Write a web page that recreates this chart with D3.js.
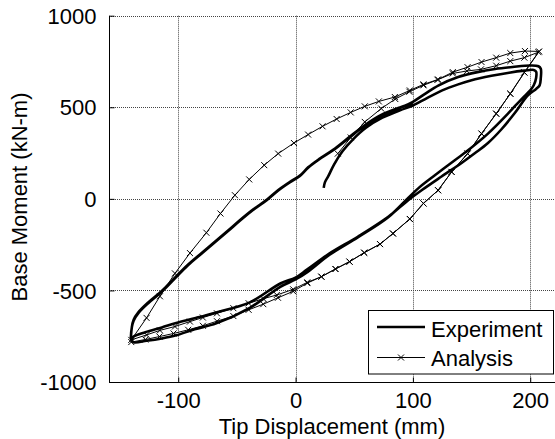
<html>
<head>
<meta charset="utf-8">
<script src="https://d3js.org/d3.v7.min.js"></script>
<style>
  body { margin: 0; background: #fff; }
  text { font-family: "Liberation Sans", Arial, sans-serif; fill: #000; }
</style>
</head>
<body>
<script>

// tick values
var xTicks = [-100, 0, 100, 200];
var yTicks = [-1000, -500, 0, 500, 1000];

// experiment: [tip disp (mm), base moment (kN-m)]
var expHook = [[24,60],[25,90],[28,125],[33,190],[40,260],[49,325],[60,388],[74,443],[89,483],[100,510],[112,550],[125,592],[138.6,625],[150,648],[167,672],[182,689],[195,700],[203,704]];
var expDrop1 = [[205,695],[205,660],[203,620],[200,592]];
var expUnload1 = [[192.6,545],[181,465],[164,356],[147,265],[135.7,211],[119,130],[105,60],[96,5],[79,-100],[53,-210],[29,-305],[10,-400],[0,-440],[-13,-480]];
var expNeg1 = [[-39,-595],[-67.6,-680],[-86,-712],[-101.7,-745],[-114,-762],[-127,-775],[-138,-783]];
var expReload = [[-140,-770],[-139.5,-700],[-138,-665],[-134,-624],[-125.6,-570],[-114,-507],[-102.8,-434],[-91.5,-361],[-80,-298],[-68,-233],[-57,-173],[-47,-117],[-36,-60],[-24.6,-7],[-15,45],[-5,90],[3.7,125],[10.7,170],[20,215],[32,265],[45,330],[58,395],[73,455],[89,497],[100,530],[110,572],[122,620],[138.6,665],[155,692],[170,709],[185,720],[200,728],[207,724]];
var expDrop2 = [[209,710],[209,660],[208,620],[205,600]];
var expUnload2 = [[198,565],[187,470],[175.5,380],[164,305],[153,250],[141.5,196],[124.4,122],[107.4,47],[96,-7],[79,-98],[53,-207],[29,-298],[10,-385],[0,-430],[-13,-462]];
var expNeg2 = [[-39,-565],[-67.6,-620],[-86,-652],[-101.7,-678],[-114,-702],[-128,-728],[-138,-752],[-140,-770]];
var expReload2 = [[-139.5,-700],[-138,-660],[-134,-620],[-125.6,-566],[-114,-503],[-102.8,-430],[-91.5,-358],[-80,-295],[-68,-230],[-57,-170],[-47,-114],[-36,-57],[-24.6,-5],[-15,47],[-5,92],[3.7,127],[10.7,172],[20,217],[32,268],[45,333],[58,398],[73,458],[89,499],[100,522]];

// analysis, one point per marker
var anaLoad1 = [[36,247],[47,335],[59,420],[73,493],[85,545],[97,585],[109,620],[121,650],[134,685],[146,698],[158,707],[171,727],[183,752],[195,771],[207,801]];
var anaUnload1 = [[195,690],[183,574],[171,465],[158.5,356],[146.6,247],[133,147],[121.5,47],[109,-25],[97.4,-110],[83,-189],[72,-247],[58.5,-294],[46,-343],[34,-383],[22,-425],[10,-456],[-2,-494],[-16,-525]];
var anaNeg1 = [[-27.5,-545],[-40,-570],[-53,-597],[-67,-625],[-79,-648],[-90,-670],[-102.8,-697],[-115.6,-718],[-127,-743],[-140,-770]];
var anaReload = [[-127,-650],[-115.6,-532],[-102.8,-407],[-90,-296],[-76,-185],[-64,-80],[-51.7,20],[-39.5,106],[-26.7,184],[-14.8,247],[-1.4,305],[10.7,351],[23,396],[35,436],[47,472],[59,505],[71,532],[84.6,556],[97.4,592],[109,625],[121.5,652],[134,692],[146.6,719],[158.5,747],[171,771],[183,796],[195.5,807],[207.6,805]];
var anaUnload2 = [[195,690],[183,574],[171,465],[158.5,356],[146.6,247],[133,147],[121.5,47],[109,-25],[97.4,-110],[83,-189],[72,-247],[58.5,-294],[46,-343],[34,-383],[22,-425],[10,-460],[-2,-505],[-15,-540]];
var anaNeg2 = [[-27.5,-575],[-40,-606],[-53,-640],[-67,-668],[-79,-693],[-91.5,-715],[-104,-735],[-116,-752],[-128,-768],[-140,-782]];

var experiment = [].concat(expHook, expDrop1, expUnload1, expNeg1, expReload, expDrop2, expUnload2, expNeg2, expReload2);
var analysis = [].concat(anaLoad1, anaUnload1, anaNeg1, anaReload, anaUnload2, anaNeg2);

var W = 555, H = 439;
var FS = "22px";
var svg = d3.select("body").append("svg").attr("width", W).attr("height", H);

var x = d3.scaleLinear().domain([-159, 220]).range([109, 553.7]);
var y = d3.scaleLinear().domain([-1000, 1000]).range([382, 15.7]);

// dotted grid
var grid = svg.append("g").attr("stroke", "#444").attr("stroke-width", 1).attr("stroke-dasharray", "1,1");
grid.selectAll("line.v").data(xTicks).enter().append("line")
  .attr("x1", function(d) { return Math.round(x(d)) + 0.5; })
  .attr("x2", function(d) { return Math.round(x(d)) + 0.5; })
  .attr("y1", y(1000)).attr("y2", y(-1000));
grid.selectAll("line.h").data(yTicks).enter().append("line")
  .attr("y1", function(d) { return Math.round(y(d)) + 0.5; })
  .attr("y2", function(d) { return Math.round(y(d)) + 0.5; })
  .attr("x1", x(-159)).attr("x2", W);

// curves
var line = d3.line().x(function(d) { return x(d[0]); }).y(function(d) { return y(d[1]); });

svg.append("path").datum(experiment)
  .attr("d", line.curve(d3.curveCatmullRom)(experiment))
  .attr("fill", "none").attr("stroke", "#000").attr("stroke-width", 2.6)
  .attr("stroke-linejoin", "round");

var lineA = d3.line().x(function(d) { return x(d[0]); }).y(function(d) { return y(d[1]); });
svg.append("path").datum(analysis)
  .attr("d", lineA)
  .attr("fill", "none").attr("stroke", "#000").attr("stroke-width", 1);

var m = 3;
svg.append("g").selectAll("path.mk").data(analysis).enter().append("path")
  .attr("d", function(d) {
    var cx = x(d[0]), cy = y(d[1]);
    return "M" + (cx - m) + "," + (cy - m) + "L" + (cx + m) + "," + (cy + m) +
           "M" + (cx - m) + "," + (cy + m) + "L" + (cx + m) + "," + (cy - m);
  })
  .attr("stroke", "#000").attr("stroke-width", 1).attr("fill", "none");

// axes (plain hyphen for negatives, as in the original)
var fmt = function(d) { return String(d); };
var xAxis = d3.axisBottom(x).tickValues(xTicks).tickSize(-5).tickFormat(fmt);
var yAxis = d3.axisLeft(y).tickValues(yTicks).tickSize(-5).tickPadding(13).tickFormat(fmt);

var gx = svg.append("g").attr("transform", "translate(0,382.5)").call(xAxis);
var gy = svg.append("g").attr("transform", "translate(109.5,0)").call(yAxis);
[gx, gy].forEach(function(g) {
  g.select(".domain").remove();
  g.selectAll("text").style("font-family", "'Liberation Sans', Arial, sans-serif").style("font-size", FS).attr("fill", "#000");
  g.selectAll("line").attr("stroke", "#000");
});
gx.selectAll("text").attr("dy", null).attr("y", 25.5);
gy.selectAll("text").attr("dy", "0.35em");

svg.append("line").attr("x1", 109.5).attr("x2", 109.5).attr("y1", 15.7).attr("y2", 382.5).attr("stroke", "#000");
svg.append("line").attr("x1", 109).attr("x2", W).attr("y1", 382.5).attr("y2", 382.5).attr("stroke", "#000");

// axis labels
svg.append("text").attr("x", 332).attr("y", 433.5).attr("text-anchor", "middle")
  .style("font-size", FS).text("Tip Displacement (mm)");
svg.append("text").attr("transform", "translate(27,197) rotate(-90)").attr("text-anchor", "middle")
  .style("font-size", FS).text("Base Moment (kN-m)");

// legend
var lg = svg.append("g");
lg.append("rect").attr("x", 368.5).attr("y", 310.5).attr("width", 185).attr("height", 63.5)
  .attr("fill", "#fff").attr("stroke", "#000").attr("stroke-width", 1);
lg.append("line").attr("x1", 377).attr("x2", 425).attr("y1", 327).attr("y2", 327)
  .attr("stroke", "#000").attr("stroke-width", 2.6);
lg.append("line").attr("x1", 377).attr("x2", 425).attr("y1", 357.5).attr("y2", 357.5)
  .attr("stroke", "#000").attr("stroke-width", 1);
lg.append("path").attr("d", "M398,354.5L404,360.5M398,360.5L404,354.5").attr("stroke", "#000");
lg.append("text").attr("x", 431).attr("y", 336.5).style("font-size", FS).text("Experiment");
lg.append("text").attr("x", 431).attr("y", 365.5).style("font-size", FS).text("Analysis");

</script>
</body>
</html>
